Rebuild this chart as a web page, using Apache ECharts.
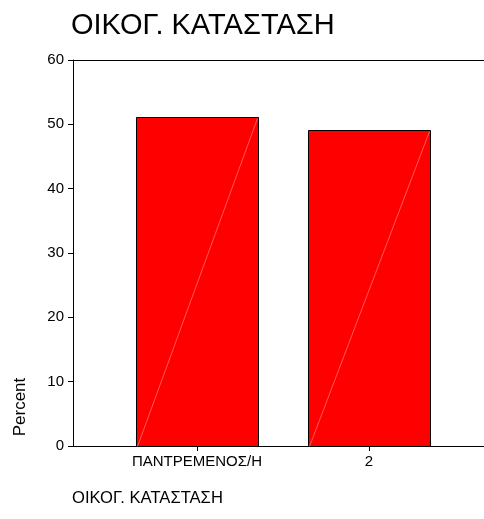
<!DOCTYPE html>
<html>
<head>
<meta charset="utf-8">
<script src="https://cdn.jsdelivr.net/npm/echarts@6/dist/echarts.min.js"></script>
<style>
    html, body { margin: 0; padding: 0; background: #fff; }
    #chart { width: 484px; height: 519px; }
</style>
</head>
<body>
<div id="chart"></div>
<script>
// κατηγορίες και ποσοστά
var categories = ['ΠΑΝΤΡΕΜΕΝΟΣ/Η', '2'];
var percents = [51.1, 49.1];
var yTicks = { min: 0, max: 60, interval: 10 };

var FONT = 'Liberation Sans, Arial, sans-serif';

// ένα στοιχείο ανά στήλη: [δείκτης κατηγορίας, τιμή]
var barData = [];
for (var i = 0; i < categories.length; i++) {
    barData.push([i, percents[i]]);
}

/**
 * στήλη με μαύρο περίγραμμα και τη λεπτή διαγώνιο
 */
function renderBar(params, api) {
    var idx = api.value(0);
    var top = api.coord([idx, api.value(1)]);
    var base = api.coord([idx, 0]);
    var w = api.size([1, 0])[0] * 0.709;
    var x0 = Math.round(top[0] - w / 2) + 0.5;
    var x1 = Math.round(top[0] + w / 2) + 0.5;
    var y0 = Math.round(top[1]) + 0.5;
    var y1 = Math.round(base[1]) + 0.5;
    return {
        type: 'group',
        children: [{
            type: 'rect',
            shape: { x: x0, y: y0, width: x1 - x0, height: y1 - y0 },
            style: { fill: '#ff0000', stroke: '#000', lineWidth: 1 }
        }, {
            type: 'line',
            shape: { x1: x0 + 1, y1: y1, x2: x1 - 1, y2: y0 + 1 },
            style: { stroke: 'rgba(255,255,255,0.35)', lineWidth: 1 }
        }]
    };
}

var option = {
    animation: false,
    backgroundColor: '#fff',
    title: [{
        text: 'ΟΙΚΟΓ. ΚΑΤΑΣΤΑΣΗ',
        left: 71,
        top: 11,
        padding: 0,
        textStyle: { fontFamily: FONT, fontSize: 29, fontWeight: 'normal', color: '#000' }
    }, {
        text: 'ΟΙΚΟΓ. ΚΑΤΑΣΤΑΣΗ',
        left: 72,
        top: 490,
        padding: 0,
        textStyle: { fontFamily: FONT, fontSize: 16.6, fontWeight: 'normal', color: '#000' }
    }],
    graphic: [{
        type: 'text',
        x: 20,
        y: 407,
        rotation: Math.PI / 2,
        style: {
            text: 'Percent',
            font: '17px ' + FONT,
            fill: '#000',
            align: 'center',
            verticalAlign: 'middle'
        }
    }],
    grid: [
        { left: 73, right: 0, top: 60, bottom: 73 },
        { left: 111, right: 29, top: 60, bottom: 73 }
    ],
    xAxis: [{
        gridIndex: 0,
        type: 'value',
        min: 0,
        max: 1,
        axisLine: { show: true, lineStyle: { color: '#000', width: 1 } },
        axisTick: { show: false },
        axisLabel: { show: false },
        splitLine: { show: false }
    }, {
        gridIndex: 0,
        type: 'value',
        position: 'top',
        min: 0,
        max: 1,
        axisLine: { show: true, lineStyle: { color: '#000', width: 1 } },
        axisTick: { show: false },
        axisLabel: { show: false },
        splitLine: { show: false }
    }, {
        gridIndex: 1,
        type: 'category',
        data: categories,
        boundaryGap: true,
        axisLine: { show: false },
        axisTick: { show: true, alignWithLabel: true, length: 5, lineStyle: { color: '#000' } },
        axisLabel: { color: '#000', fontFamily: FONT, fontSize: 15, margin: 8 },
        splitLine: { show: false }
    }],
    yAxis: [{
        gridIndex: 0,
        type: 'value',
        min: yTicks.min,
        max: yTicks.max,
        interval: yTicks.interval,
        axisLine: { show: true, lineStyle: { color: '#000', width: 1 } },
        axisTick: { show: true, length: 5, lineStyle: { color: '#000' } },
        axisLabel: { color: '#000', fontFamily: FONT, fontSize: 15, margin: 9 },
        splitLine: { show: false }
    }, {
        gridIndex: 1,
        type: 'value',
        min: yTicks.min,
        max: yTicks.max,
        show: false
    }],
    series: [{
        type: 'custom',
        xAxisIndex: 2,
        yAxisIndex: 1,
        data: barData,
        renderItem: renderBar
    }]
};

var chart = echarts.init(document.getElementById('chart'), null, { renderer: 'canvas' });
chart.setOption(option);
</script>
</body>
</html>
